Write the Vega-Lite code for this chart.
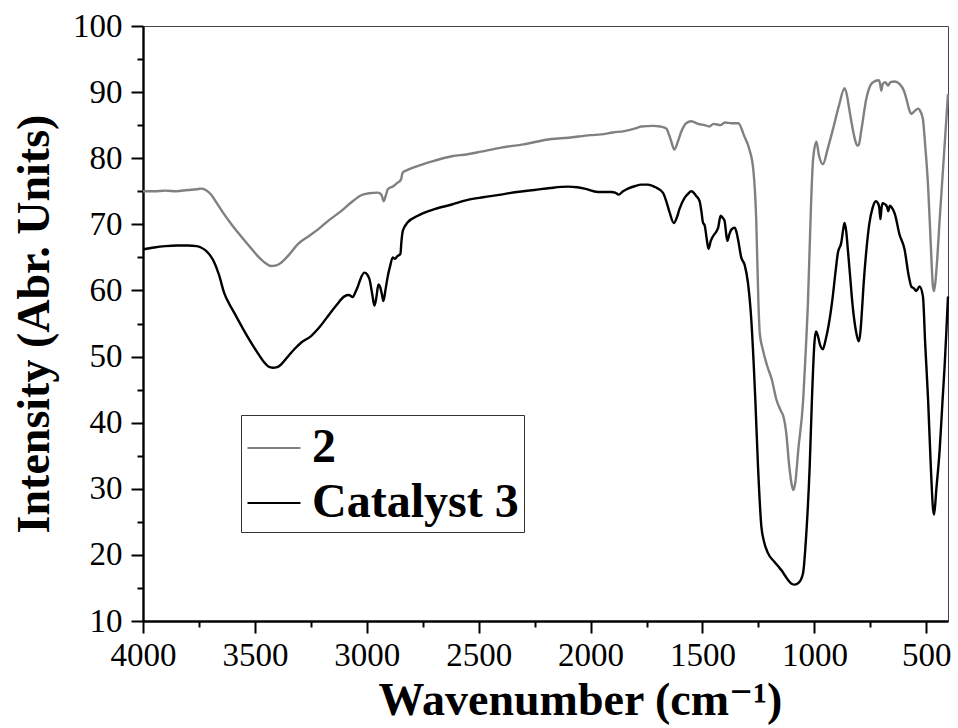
{
  "$schema": "https://vega.github.io/schema/vega-lite/v6.json",
  "width": 805,
  "height": 595,
  "autosize": {"type": "none"},
  "padding": {"left": 143, "top": 26, "right": 10, "bottom": 107},
  "background": "white",
  "config": {"view": {"stroke": "#444444", "strokeWidth": 1}, "font": "Liberation Serif, Times New Roman, DejaVu Serif, serif"},
  "data": {"values": [
{"s":"2","wn":4000,"v":75.0},{"s":"2","wn":3950,"v":75.0},{"s":"2","wn":3900,"v":75.1},{"s":"2","wn":3850,"v":75.0},{"s":"2","wn":3800,"v":75.2},{"s":"2","wn":3760,"v":75.3},{"s":"2","wn":3741,"v":75.4},{"s":"2","wn":3720,"v":75.2},{"s":"2","wn":3696,"v":74.5},{"s":"2","wn":3670,"v":73.2},{"s":"2","wn":3637,"v":71.5},{"s":"2","wn":3600,"v":69.8},{"s":"2","wn":3562,"v":68.2},{"s":"2","wn":3520,"v":66.5},{"s":"2","wn":3487,"v":65.2},{"s":"2","wn":3455,"v":64.2},{"s":"2","wn":3428,"v":63.7},{"s":"2","wn":3405,"v":63.8},{"s":"2","wn":3383,"v":64.2},{"s":"2","wn":3350,"v":65.3},{"s":"2","wn":3308,"v":67.0},{"s":"2","wn":3260,"v":68.2},{"s":"2","wn":3219,"v":69.2},{"s":"2","wn":3170,"v":70.6},{"s":"2","wn":3115,"v":72.0},{"s":"2","wn":3070,"v":73.3},{"s":"2","wn":3025,"v":74.4},{"s":"2","wn":2990,"v":74.7},{"s":"2","wn":2951,"v":74.8},{"s":"2","wn":2935,"v":74.5},{"s":"2","wn":2924,"v":73.5},{"s":"2","wn":2914,"v":74.5},{"s":"2","wn":2906,"v":75.3},{"s":"2","wn":2880,"v":75.8},{"s":"2","wn":2862,"v":76.3},{"s":"2","wn":2847,"v":76.8},{"s":"2","wn":2840,"v":77.8},{"s":"2","wn":2820,"v":78.2},{"s":"2","wn":2800,"v":78.5},{"s":"2","wn":2757,"v":79.0},{"s":"2","wn":2700,"v":79.6},{"s":"2","wn":2620,"v":80.3},{"s":"2","wn":2550,"v":80.6},{"s":"2","wn":2489,"v":81.0},{"s":"2","wn":2400,"v":81.6},{"s":"2","wn":2300,"v":82.1},{"s":"2","wn":2176,"v":82.9},{"s":"2","wn":2100,"v":83.1},{"s":"2","wn":2000,"v":83.5},{"s":"2","wn":1953,"v":83.6},{"s":"2","wn":1900,"v":83.9},{"s":"2","wn":1850,"v":84.1},{"s":"2","wn":1800,"v":84.5},{"s":"2","wn":1774,"v":84.8},{"s":"2","wn":1720,"v":84.9},{"s":"2","wn":1690,"v":84.8},{"s":"2","wn":1662,"v":84.5},{"s":"2","wn":1650,"v":83.6},{"s":"2","wn":1640,"v":82.6},{"s":"2","wn":1626,"v":81.3},{"s":"2","wn":1610,"v":82.5},{"s":"2","wn":1595,"v":84.0},{"s":"2","wn":1573,"v":85.3},{"s":"2","wn":1550,"v":85.6},{"s":"2","wn":1520,"v":85.2},{"s":"2","wn":1490,"v":85.0},{"s":"2","wn":1470,"v":84.8},{"s":"2","wn":1450,"v":85.2},{"s":"2","wn":1420,"v":85.0},{"s":"2","wn":1400,"v":85.4},{"s":"2","wn":1370,"v":85.3},{"s":"2","wn":1340,"v":85.3},{"s":"2","wn":1313,"v":83.3},{"s":"2","wn":1291,"v":81.4},{"s":"2","wn":1273,"v":78.3},{"s":"2","wn":1260,"v":70.8},{"s":"2","wn":1250,"v":58.0},{"s":"2","wn":1244,"v":53.5},{"s":"2","wn":1230,"v":51.0},{"s":"2","wn":1210,"v":48.5},{"s":"2","wn":1190,"v":46.5},{"s":"2","wn":1170,"v":43.5},{"s":"2","wn":1150,"v":41.8},{"s":"2","wn":1139,"v":41.0},{"s":"2","wn":1126,"v":38.5},{"s":"2","wn":1112,"v":33.3},{"s":"2","wn":1100,"v":30.4},{"s":"2","wn":1094,"v":29.8},{"s":"2","wn":1085,"v":31.0},{"s":"2","wn":1072,"v":35.9},{"s":"2","wn":1050,"v":43.5},{"s":"2","wn":1040,"v":50.0},{"s":"2","wn":1029,"v":58.0},{"s":"2","wn":1015,"v":73.0},{"s":"2","wn":1006,"v":79.8},{"s":"2","wn":991,"v":82.5},{"s":"2","wn":980,"v":80.5},{"s":"2","wn":962,"v":79.1},{"s":"2","wn":940,"v":81.5},{"s":"2","wn":917,"v":84.4},{"s":"2","wn":890,"v":88.0},{"s":"2","wn":865,"v":90.6},{"s":"2","wn":855,"v":89.6},{"s":"2","wn":845,"v":87.6},{"s":"2","wn":835,"v":85.6},{"s":"2","wn":820,"v":83.0},{"s":"2","wn":808,"v":81.9},{"s":"2","wn":802,"v":82.0},{"s":"2","wn":790,"v":84.3},{"s":"2","wn":768,"v":89.0},{"s":"2","wn":750,"v":91.0},{"s":"2","wn":738,"v":91.5},{"s":"2","wn":713,"v":91.8},{"s":"2","wn":706,"v":91.2},{"s":"2","wn":701,"v":90.2},{"s":"2","wn":695,"v":91.2},{"s":"2","wn":683,"v":91.5},{"s":"2","wn":671,"v":91.0},{"s":"2","wn":660,"v":91.5},{"s":"2","wn":641,"v":91.6},{"s":"2","wn":619,"v":91.2},{"s":"2","wn":600,"v":90.2},{"s":"2","wn":589,"v":89.0},{"s":"2","wn":575,"v":87.2},{"s":"2","wn":567,"v":86.7},{"s":"2","wn":550,"v":87.2},{"s":"2","wn":537,"v":87.5},{"s":"2","wn":525,"v":87.0},{"s":"2","wn":515,"v":85.9},{"s":"2","wn":505,"v":82.0},{"s":"2","wn":492,"v":75.8},{"s":"2","wn":480,"v":67.0},{"s":"2","wn":470,"v":60.5},{"s":"2","wn":465,"v":59.9},{"s":"2","wn":455,"v":63.0},{"s":"2","wn":440,"v":70.8},{"s":"2","wn":420,"v":81.0},{"s":"2","wn":403,"v":89.7},
{"s":"Catalyst 3","wn":4000,"v":66.2},{"s":"Catalyst 3","wn":3950,"v":66.5},{"s":"Catalyst 3","wn":3900,"v":66.7},{"s":"Catalyst 3","wn":3850,"v":66.8},{"s":"Catalyst 3","wn":3800,"v":66.8},{"s":"Catalyst 3","wn":3760,"v":66.7},{"s":"Catalyst 3","wn":3741,"v":66.5},{"s":"Catalyst 3","wn":3718,"v":66.0},{"s":"Catalyst 3","wn":3700,"v":65.3},{"s":"Catalyst 3","wn":3681,"v":64.2},{"s":"Catalyst 3","wn":3660,"v":62.3},{"s":"Catalyst 3","wn":3637,"v":59.6},{"s":"Catalyst 3","wn":3615,"v":58.0},{"s":"Catalyst 3","wn":3592,"v":56.6},{"s":"Catalyst 3","wn":3555,"v":54.3},{"s":"Catalyst 3","wn":3517,"v":52.1},{"s":"Catalyst 3","wn":3485,"v":50.4},{"s":"Catalyst 3","wn":3458,"v":49.1},{"s":"Catalyst 3","wn":3440,"v":48.5},{"s":"Catalyst 3","wn":3420,"v":48.3},{"s":"Catalyst 3","wn":3400,"v":48.4},{"s":"Catalyst 3","wn":3383,"v":48.8},{"s":"Catalyst 3","wn":3355,"v":49.9},{"s":"Catalyst 3","wn":3324,"v":51.1},{"s":"Catalyst 3","wn":3290,"v":52.2},{"s":"Catalyst 3","wn":3249,"v":53.1},{"s":"Catalyst 3","wn":3210,"v":54.5},{"s":"Catalyst 3","wn":3174,"v":56.1},{"s":"Catalyst 3","wn":3135,"v":57.8},{"s":"Catalyst 3","wn":3100,"v":59.1},{"s":"Catalyst 3","wn":3080,"v":59.3},{"s":"Catalyst 3","wn":3063,"v":59.0},{"s":"Catalyst 3","wn":3050,"v":59.8},{"s":"Catalyst 3","wn":3040,"v":60.6},{"s":"Catalyst 3","wn":3025,"v":62.0},{"s":"Catalyst 3","wn":3011,"v":62.7},{"s":"Catalyst 3","wn":2998,"v":62.4},{"s":"Catalyst 3","wn":2988,"v":61.7},{"s":"Catalyst 3","wn":2976,"v":59.5},{"s":"Catalyst 3","wn":2966,"v":57.7},{"s":"Catalyst 3","wn":2957,"v":59.0},{"s":"Catalyst 3","wn":2948,"v":60.9},{"s":"Catalyst 3","wn":2941,"v":60.6},{"s":"Catalyst 3","wn":2933,"v":59.5},{"s":"Catalyst 3","wn":2926,"v":58.4},{"s":"Catalyst 3","wn":2916,"v":60.2},{"s":"Catalyst 3","wn":2906,"v":62.2},{"s":"Catalyst 3","wn":2895,"v":63.8},{"s":"Catalyst 3","wn":2884,"v":65.0},{"s":"Catalyst 3","wn":2874,"v":64.8},{"s":"Catalyst 3","wn":2863,"v":65.2},{"s":"Catalyst 3","wn":2850,"v":65.5},{"s":"Catalyst 3","wn":2845,"v":67.5},{"s":"Catalyst 3","wn":2839,"v":69.0},{"s":"Catalyst 3","wn":2817,"v":70.3},{"s":"Catalyst 3","wn":2772,"v":71.3},{"s":"Catalyst 3","wn":2697,"v":72.3},{"s":"Catalyst 3","wn":2620,"v":73.0},{"s":"Catalyst 3","wn":2549,"v":73.7},{"s":"Catalyst 3","wn":2480,"v":74.1},{"s":"Catalyst 3","wn":2400,"v":74.5},{"s":"Catalyst 3","wn":2330,"v":74.9},{"s":"Catalyst 3","wn":2251,"v":75.2},{"s":"Catalyst 3","wn":2180,"v":75.5},{"s":"Catalyst 3","wn":2101,"v":75.7},{"s":"Catalyst 3","wn":2060,"v":75.6},{"s":"Catalyst 3","wn":2027,"v":75.4},{"s":"Catalyst 3","wn":1967,"v":74.9},{"s":"Catalyst 3","wn":1908,"v":74.9},{"s":"Catalyst 3","wn":1890,"v":74.8},{"s":"Catalyst 3","wn":1875,"v":74.5},{"s":"Catalyst 3","wn":1855,"v":75.0},{"s":"Catalyst 3","wn":1833,"v":75.4},{"s":"Catalyst 3","wn":1800,"v":75.8},{"s":"Catalyst 3","wn":1774,"v":76.0},{"s":"Catalyst 3","wn":1744,"v":76.0},{"s":"Catalyst 3","wn":1710,"v":75.6},{"s":"Catalyst 3","wn":1677,"v":74.8},{"s":"Catalyst 3","wn":1660,"v":73.3},{"s":"Catalyst 3","wn":1647,"v":71.8},{"s":"Catalyst 3","wn":1628,"v":70.2},{"s":"Catalyst 3","wn":1615,"v":71.0},{"s":"Catalyst 3","wn":1603,"v":72.3},{"s":"Catalyst 3","wn":1580,"v":74.0},{"s":"Catalyst 3","wn":1565,"v":74.6},{"s":"Catalyst 3","wn":1550,"v":75.0},{"s":"Catalyst 3","wn":1528,"v":74.3},{"s":"Catalyst 3","wn":1513,"v":73.5},{"s":"Catalyst 3","wn":1505,"v":72.0},{"s":"Catalyst 3","wn":1498,"v":70.3},{"s":"Catalyst 3","wn":1490,"v":69.8},{"s":"Catalyst 3","wn":1482,"v":68.0},{"s":"Catalyst 3","wn":1473,"v":66.3},{"s":"Catalyst 3","wn":1463,"v":67.5},{"s":"Catalyst 3","wn":1453,"v":68.2},{"s":"Catalyst 3","wn":1440,"v":68.8},{"s":"Catalyst 3","wn":1430,"v":69.5},{"s":"Catalyst 3","wn":1419,"v":71.3},{"s":"Catalyst 3","wn":1410,"v":71.0},{"s":"Catalyst 3","wn":1401,"v":70.5},{"s":"Catalyst 3","wn":1395,"v":68.8},{"s":"Catalyst 3","wn":1389,"v":67.5},{"s":"Catalyst 3","wn":1380,"v":68.5},{"s":"Catalyst 3","wn":1371,"v":69.2},{"s":"Catalyst 3","wn":1356,"v":69.5},{"s":"Catalyst 3","wn":1348,"v":68.8},{"s":"Catalyst 3","wn":1341,"v":67.7},{"s":"Catalyst 3","wn":1327,"v":65.0},{"s":"Catalyst 3","wn":1312,"v":63.9},{"s":"Catalyst 3","wn":1297,"v":61.2},{"s":"Catalyst 3","wn":1282,"v":55.6},{"s":"Catalyst 3","wn":1270,"v":48.0},{"s":"Catalyst 3","wn":1264,"v":43.5},{"s":"Catalyst 3","wn":1252,"v":33.4},{"s":"Catalyst 3","wn":1237,"v":24.3},{"s":"Catalyst 3","wn":1225,"v":22.0},{"s":"Catalyst 3","wn":1208,"v":20.3},{"s":"Catalyst 3","wn":1180,"v":19.0},{"s":"Catalyst 3","wn":1160,"v":18.2},{"s":"Catalyst 3","wn":1148,"v":17.7},{"s":"Catalyst 3","wn":1130,"v":16.8},{"s":"Catalyst 3","wn":1118,"v":16.2},{"s":"Catalyst 3","wn":1100,"v":15.6},{"s":"Catalyst 3","wn":1088,"v":15.5},{"s":"Catalyst 3","wn":1070,"v":15.8},{"s":"Catalyst 3","wn":1051,"v":17.2},{"s":"Catalyst 3","wn":1036,"v":23.3},{"s":"Catalyst 3","wn":1021,"v":33.4},{"s":"Catalyst 3","wn":1011,"v":43.5},{"s":"Catalyst 3","wn":1000,"v":52.0},{"s":"Catalyst 3","wn":993,"v":53.8},{"s":"Catalyst 3","wn":985,"v":53.2},{"s":"Catalyst 3","wn":975,"v":51.8},{"s":"Catalyst 3","wn":962,"v":51.1},{"s":"Catalyst 3","wn":950,"v":52.5},{"s":"Catalyst 3","wn":935,"v":55.0},{"s":"Catalyst 3","wn":920,"v":58.5},{"s":"Catalyst 3","wn":905,"v":63.0},{"s":"Catalyst 3","wn":895,"v":65.7},{"s":"Catalyst 3","wn":880,"v":67.2},{"s":"Catalyst 3","wn":870,"v":69.5},{"s":"Catalyst 3","wn":865,"v":70.2},{"s":"Catalyst 3","wn":858,"v":69.0},{"s":"Catalyst 3","wn":850,"v":66.0},{"s":"Catalyst 3","wn":840,"v":62.0},{"s":"Catalyst 3","wn":830,"v":58.0},{"s":"Catalyst 3","wn":815,"v":54.0},{"s":"Catalyst 3","wn":802,"v":52.3},{"s":"Catalyst 3","wn":795,"v":53.5},{"s":"Catalyst 3","wn":790,"v":55.6},{"s":"Catalyst 3","wn":780,"v":61.0},{"s":"Catalyst 3","wn":768,"v":66.0},{"s":"Catalyst 3","wn":755,"v":70.0},{"s":"Catalyst 3","wn":740,"v":72.5},{"s":"Catalyst 3","wn":725,"v":73.5},{"s":"Catalyst 3","wn":716,"v":73.2},{"s":"Catalyst 3","wn":710,"v":72.5},{"s":"Catalyst 3","wn":705,"v":70.8},{"s":"Catalyst 3","wn":700,"v":72.5},{"s":"Catalyst 3","wn":695,"v":73.2},{"s":"Catalyst 3","wn":683,"v":73.0},{"s":"Catalyst 3","wn":675,"v":72.6},{"s":"Catalyst 3","wn":670,"v":72.0},{"s":"Catalyst 3","wn":663,"v":72.8},{"s":"Catalyst 3","wn":655,"v":72.6},{"s":"Catalyst 3","wn":640,"v":71.5},{"s":"Catalyst 3","wn":620,"v":68.5},{"s":"Catalyst 3","wn":597,"v":66.2},{"s":"Catalyst 3","wn":580,"v":62.5},{"s":"Catalyst 3","wn":567,"v":60.6},{"s":"Catalyst 3","wn":555,"v":60.3},{"s":"Catalyst 3","wn":545,"v":59.9},{"s":"Catalyst 3","wn":530,"v":60.6},{"s":"Catalyst 3","wn":515,"v":59.1},{"s":"Catalyst 3","wn":505,"v":52.0},{"s":"Catalyst 3","wn":492,"v":43.5},{"s":"Catalyst 3","wn":480,"v":33.5},{"s":"Catalyst 3","wn":470,"v":27.0},{"s":"Catalyst 3","wn":465,"v":26.1},{"s":"Catalyst 3","wn":455,"v":30.0},{"s":"Catalyst 3","wn":440,"v":36.0},{"s":"Catalyst 3","wn":428,"v":43.0},{"s":"Catalyst 3","wn":418,"v":48.6},{"s":"Catalyst 3","wn":410,"v":54.0},{"s":"Catalyst 3","wn":403,"v":59.1}
  ]},
  "encoding": {
    "color": {
      "field": "s", "type": "nominal",
      "scale": {"domain": ["2", "Catalyst 3"], "range": ["#808080", "#000000"]},
      "legend": {
        "orient": "none", "legendX": 98, "legendY": 389,
        "title": null,
        "symbolType": "stroke", "symbolSize": 2809, "symbolStrokeWidth": 2.2,
        "labelFont": "Liberation Serif, Times New Roman, DejaVu Serif, serif", "labelFontSize": 48, "labelFontWeight": "bold", "labelColor": "black",
        "labelOffset": 10, "labelLimit": 500,
        "strokeColor": "#333333", "fillColor": "white",
        "padding": 5, "rowPadding": 3
      }
    },
    "order": {"field": "wn", "type": "quantitative", "sort": "descending"}
  },
  "layer": [
    {
      "transform": [{"filter": "datum.s === '2'"}],
      "mark": {"type": "line", "strokeWidth": 2.4, "interpolate": "monotone"},
      "encoding": {
        "x": {
          "field": "wn", "type": "quantitative",
          "scale": {"domain": [403, 4000], "reverse": true, "nice": false, "zero": false},
          "axis": {
            "orient": "bottom",
            "values": [4000, 3500, 3000, 2500, 2000, 1500, 1000, 500],
            "format": "d",
            "tickSize": 12, "tickWidth": 2, "tickColor": "black",
            "domainWidth": 2.4, "domainColor": "black",
            "grid": false,
            "labelFont": "Liberation Serif, Times New Roman, DejaVu Serif, serif", "labelFontSize": 33, "labelColor": "black",
            "labelPadding": 6, "labelFlush": false, "labelOverlap": false,
            "title": "Wavenumber (cm⁻¹)",
            "titleFont": "Liberation Serif, Times New Roman, DejaVu Serif, serif", "titleFontSize": 46, "titleFontWeight": "bold", "titleColor": "black",
            "titlePadding": 6, "titleX": 437
          }
        },
        "y": {
          "field": "v", "type": "quantitative",
          "scale": {"domain": [10, 100], "nice": false, "zero": false},
          "axis": {
            "orient": "left",
            "values": [10, 20, 30, 40, 50, 60, 70, 80, 90, 100],
            "format": "d",
            "tickSize": 12, "tickWidth": 2, "tickColor": "black",
            "domainWidth": 2.4, "domainColor": "black",
            "grid": false,
            "labelFont": "Liberation Serif, Times New Roman, DejaVu Serif, serif", "labelFontSize": 33, "labelColor": "black",
            "labelPadding": 9, "labelFlush": false, "labelOverlap": false,
            "title": "Intensity (Abr. Units)",
            "titleFont": "Liberation Serif, Times New Roman, DejaVu Serif, serif", "titleFontSize": 46, "titleFontWeight": "bold", "titleColor": "black",
            "titlePadding": 14
          }
        }
      }
    },
    {
      "transform": [{"filter": "datum.s === 'Catalyst 3'"}],
      "mark": {"type": "line", "strokeWidth": 2.4, "interpolate": "monotone"},
      "encoding": {
        "x": {
          "field": "wn", "type": "quantitative",
          "axis": {
            "orient": "bottom",
            "values": [3750, 3250, 2750, 2250, 1750, 1250, 750],
            "labels": false, "domain": false, "grid": false,
            "tickSize": 6, "tickWidth": 2, "tickColor": "black",
            "title": null
          }
        },
        "y": {
          "field": "v", "type": "quantitative",
          "axis": {
            "orient": "left",
            "values": [15, 25, 35, 45, 55, 65, 75, 85, 95],
            "labels": false, "domain": false, "grid": false,
            "tickSize": 6, "tickWidth": 2, "tickColor": "black",
            "title": null
          }
        }
      }
    }
  ],
  "resolve": {"axis": {"x": "independent", "y": "independent"}}
}
